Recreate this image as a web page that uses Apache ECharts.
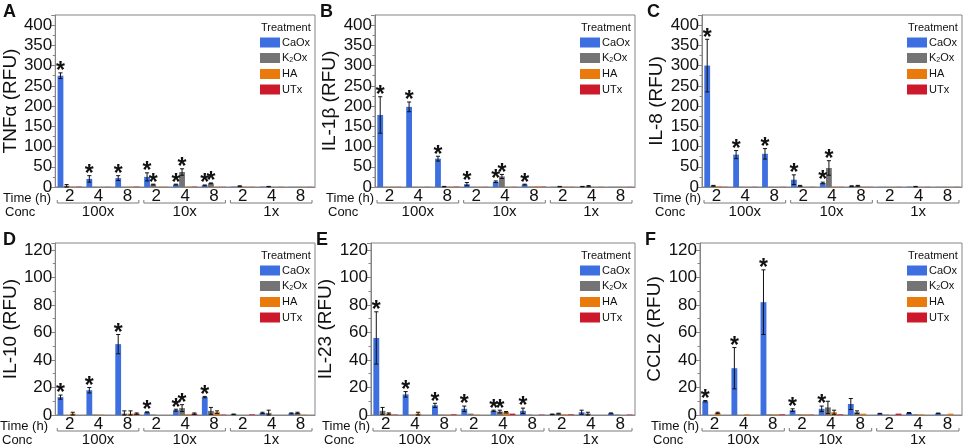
<!DOCTYPE html>
<html>
<head>
<meta charset="utf-8">
<script src="https://cdn.jsdelivr.net/npm/echarts@6/dist/echarts.min.js"></script>
<style>
html, body { margin: 0; padding: 0; background: #fff; }
#main { width: 966px; height: 446px; }
</style>
</head>
<body>
<div id="main"></div>
<script>
// categories: 3 concentrations x 3 time points
var groups = ['100x', '10x', '1x'];
var times = ['2', '4', '8'];
var treatments = ['CaOx', 'K2Ox', 'HA', 'UTx'];
var colors = ['#3d6fe0', '#747474', '#ea7a0c', '#cc1a2c'];

// rows: CaOx, K2Ox, HA, UTx ; columns: 100x-2,4,8, 10x-2,4,8, 1x-2,4,8
var tnfMean = [
    [275, 20, 22, 25, 6, 4, 1, 1, 0.5],
    [3, 0.5, 0.5, 6, 37, 9, 2, 1, 0.5],
    [1, 0.5, 1, 1, 1, 1, 1, 0.5, 0.5],
    [1, 0.5, 1, 0.5, 1, 0.5, 0.5, 0.5, 0.5]
];
var tnfErr = [
    [7, 8, 6, 10, 1, 1, 0, 0, 0],
    [3, 0, 0, 1, 8, 1, 1, 0.5, 0],
    [0, 0, 0, 0, 0, 0, 0, 0, 0],
    [0, 0, 0, 0, 0, 0, 0, 0, 0]
];
var tnfStar = [
    [1, 1, 1, 1, 1, 1, 0, 0, 0],
    [0, 0, 0, 1, 1, 1, 0, 0, 0],
    [0, 0, 0, 0, 0, 0, 0, 0, 0],
    [0, 0, 0, 0, 0, 0, 0, 0, 0]
];

var il1bMean = [
    [178, 198, 70, 7, 13, 6, 0.5, 1, 0.5],
    [0.5, 0.5, 1, 0.5, 26, 1, 1, 2, 0.5],
    [1, 0.5, 1, 0.5, 0.5, 2, 1, 0.5, 0.5],
    [0.5, 0.5, 1, 0.5, 0.5, 1, 0.5, 0.5, 0.5]
];
var il1bErr = [
    [45, 12, 6, 4, 2, 1, 0, 0.5, 0],
    [0, 0, 0.5, 0, 5, 0, 0.5, 1.5, 0],
    [0, 0, 0, 0, 0, 0, 0, 0, 0],
    [0, 0, 0, 0, 0, 0, 0, 0, 0]
];
var il1bStar = [
    [1, 1, 1, 1, 1, 1, 0, 0, 0],
    [0, 0, 0, 0, 1, 0, 0, 0, 0],
    [0, 0, 0, 0, 0, 0, 0, 0, 0],
    [0, 0, 0, 0, 0, 0, 0, 0, 0]
];

var il8Mean = [
    [300, 80, 82, 18, 10, 2, 0.5, 1, 0.5],
    [3, 0.5, 0.5, 3, 47, 3, 0.5, 1, 0.5],
    [2, 0.5, 0.5, 0.5, 1, 1, 0.5, 0.5, 0.5],
    [0.5, 0.5, 0.5, 0.5, 0.5, 0.5, 0.5, 0.5, 0.5]
];
var il8Err = [
    [65, 10, 13, 12, 2, 1, 0, 0, 0],
    [1, 0, 0, 1, 18, 1, 0, 0.5, 0],
    [0, 0, 0, 0, 0, 0, 0, 0, 0],
    [0, 0, 0, 0, 0, 0, 0, 0, 0]
];
var il8Star = [
    [1, 1, 1, 1, 1, 0, 0, 0, 0],
    [0, 0, 0, 0, 1, 0, 0, 0, 0],
    [0, 0, 0, 0, 0, 0, 0, 0, 0],
    [0, 0, 0, 0, 0, 0, 0, 0, 0]
];

var il10Mean = [
    [13, 18, 51.5, 2, 3.5, 13, 0.5, 1.5, 1.2],
    [0, 0.3, 1, 0.3, 5, 3, 0, 1.5, 1.5],
    [1, 0.3, 1, 0, 0.5, 2, 0, 0, 0.3],
    [0, 0, 1, 0, 1, 0.3, 0.5, 0, 0]
];
var il10Err = [
    [1.5, 2, 7, 0.3, 0.7, 0.5, 0.2, 0.5, 0.3],
    [0, 0, 2, 0, 2.5, 2.5, 0, 2, 0.5],
    [1, 0, 2, 0, 0, 1, 0, 0, 0],
    [0, 0, 0.5, 0, 0.5, 0, 0, 0, 0]
];
var il10Star = [
    [1, 1, 1, 1, 1, 1, 0, 0, 0],
    [0, 0, 0, 0, 1, 0, 0, 0, 0],
    [0, 0, 0, 0, 0, 0, 0, 0, 0],
    [0, 0, 0, 0, 0, 0, 0, 0, 0]
];

var il23Mean = [
    [56, 15, 7, 4.5, 3, 3, 0.5, 2, 1.2],
    [3, 0.3, 0.3, 1, 2.5, 0.3, 1, 1, 0.3],
    [1, 1, 0.3, 0.3, 2, 0, 0.5, 0, 0],
    [0.3, 0, 0.5, 0, 1, 0.3, 0.5, 0, 0.3]
];
var il23Err = [
    [19, 2, 1.5, 2, 0.5, 2, 0.2, 1.5, 0.3],
    [2.5, 0, 0, 0, 1, 0, 0.3, 1, 0],
    [0.5, 1, 0, 0, 0.5, 0, 0, 0, 0],
    [0, 0, 0, 0, 0, 0, 0, 0, 0]
];
var il23Star = [
    [1, 1, 1, 1, 1, 1, 0, 0, 0],
    [0, 0, 0, 0, 1, 0, 0, 0, 0],
    [0, 0, 0, 0, 0, 0, 0, 0, 0],
    [0, 0, 0, 0, 0, 0, 0, 0, 0]
];

var ccl2Mean = [
    [10, 34, 82, 3.5, 4.5, 8, 1, 1.5, 1.2],
    [0, 0, 0.5, 0.5, 5.5, 2, 0.3, 0.5, 0.3],
    [1.5, 0.5, 0.5, 0.5, 2, 1, 0, 0.5, 1],
    [0, 0, 0.5, 0.3, 0.5, 0, 1, 0, 0]
];
var ccl2Err = [
    [0.5, 15, 23.5, 1, 2, 4, 0.2, 0.3, 0.2],
    [0, 0, 0, 0, 4.5, 1, 0, 0, 0],
    [0.5, 0, 0, 0, 1.5, 0, 0, 0, 0],
    [0, 0, 0, 0, 0, 0, 0, 0, 0]
];
var ccl2Star = [
    [1, 1, 1, 1, 1, 0, 0, 0, 0],
    [0, 0, 0, 0, 0, 0, 0, 0, 0],
    [0, 0, 0, 0, 0, 0, 0, 0, 0],
    [0, 0, 0, 0, 0, 0, 0, 0, 0]
];

var FONT = '"Liberation Sans", Arial, Helvetica, sans-serif';
var CAT_GAP = 0.16, BAR_GAP = 0.06;

var categories = [];
groups.forEach(function (g) {
    times.forEach(function (t) { categories.push(g + '|' + t); });
});

// 面板布局
var panels = [
    { key: 'A', name: 'TNFα (RFU)', mean: tnfMean, err: tnfErr, star: tnfStar, max: 425, step: 50, left: 52, top: 15, width: 263, height: 172, gap: 32 },
    { key: 'B', name: 'IL-1β (RFU)', mean: il1bMean, err: il1bErr, star: il1bStar, max: 425, step: 50, left: 375, top: 15, width: 260, height: 172, gap: 34 },
    { key: 'C', name: 'IL-8 (RFU)', mean: il8Mean, err: il8Err, star: il8Star, max: 425, step: 50, left: 702, top: 15, width: 260, height: 172, gap: 36 },
    { key: 'D', name: 'IL-10 (RFU)', mean: il10Mean, err: il10Err, star: il10Star, max: 125, step: 20, left: 49, top: 243, width: 266, height: 172, gap: 30 },
    { key: 'E', name: 'IL-23 (RFU)', mean: il23Mean, err: il23Err, star: il23Star, max: 125, step: 20, left: 371, top: 243, width: 264, height: 172, gap: 31 },
    { key: 'F', name: 'CCL2 (RFU)', mean: ccl2Mean, err: ccl2Err, star: ccl2Star, max: 125, step: 20, left: 700, top: 243, width: 262, height: 172, gap: 36 }
];

function barCenter(api, ci, k) {
    var band = api.size([1, 0])[0];
    var bw = band * (1 - CAT_GAP) / (4 + 3 * BAR_GAP);
    var total = bw * 4 + bw * BAR_GAP * 3;
    return { x: api.coord([ci, 0])[0] - total / 2 + k * bw * (1 + BAR_GAP) + bw / 2, bw: bw };
}

function errRender(k) {
    return function (params, api) {
        var ci = api.value(0), m = api.value(1), e = api.value(2), s = api.value(3);
        var b = barCenter(api, ci, k);
        var yTop = api.coord([ci, m + e])[1];
        var yBot = api.coord([ci, Math.max(m - e, 0)])[1];
        var cap = Math.max(b.bw * 0.35, 1.5);
        var children = [];
        var ln = { stroke: '#111', lineWidth: 1 };
        if (e > 0) {
            children.push({ type: 'line', shape: { x1: b.x, y1: yTop, x2: b.x, y2: yBot }, style: ln });
            children.push({ type: 'line', shape: { x1: b.x - cap, y1: yTop, x2: b.x + cap, y2: yTop }, style: ln });
            children.push({ type: 'line', shape: { x1: b.x - cap, y1: yBot, x2: b.x + cap, y2: yBot }, style: ln });
        }
        if (s) {
            children.push({
                type: 'text',
                style: { text: '*', x: b.x, y: yTop - 1, align: 'center', verticalAlign: 'middle', font: 'bold 23px ' + FONT, fill: '#111' }
            });
        }
        return { type: 'group', children: children };
    };
}

function bracketRender(params, api) {
    var g = api.value(0);
    var band = api.size([1, 0])[0];
    var x0 = api.coord([g * 3, 0])[0] - band / 2 + 2;
    var x1 = api.coord([g * 3 + 2, 0])[0] + band / 2 - 3;
    var y = api.coord([0, 0])[1] + 16;
    return {
        type: 'group',
        children: [
            { type: 'polyline', shape: { points: [[x0, y - 3], [x0, y], [x1, y], [x1, y - 3]] }, style: { stroke: '#7a7a7a', lineWidth: 1, fill: null } },
            { type: 'text', style: { text: groups[g], x: (x0 + x1) / 2, y: y + 9, align: 'center', verticalAlign: 'middle', font: '15px ' + FONT, fill: '#111' } }
        ]
    };
}

var option = {
    animation: false,
    backgroundColor: '#fff',
    textStyle: { fontFamily: FONT },
    grid: [], xAxis: [], yAxis: [], series: [], legend: [], graphic: []
};

panels.forEach(function (p, pi) {
    option.grid.push({
        left: p.left, top: p.top, width: p.width, height: p.height,
        show: true, borderColor: '#858585', borderWidth: 1, backgroundColor: 'transparent'
    });
    option.xAxis.push({
        type: 'category', gridIndex: pi, data: categories,
        axisLine: { show: true, lineStyle: { color: '#858585' } },
        axisTick: { show: false },
        axisLabel: { color: '#111', fontSize: 17, margin: 1, interval: 0, formatter: function (v) { return v.split('|')[1]; } }
    });
    option.yAxis.push({
        type: 'value', gridIndex: pi, min: 0, max: p.max, interval: p.step,
        name: p.name, nameLocation: 'middle', nameGap: p.gap,
        nameTextStyle: { color: '#111', fontSize: 19 },
        axisLine: { show: true, lineStyle: { color: '#858585' } },
        axisTick: { show: true, length: 4, lineStyle: { color: '#858585' } },
        minorTick: { show: true, splitNumber: 2, length: 2.5, lineStyle: { color: '#858585' } },
        splitLine: { show: false },
        axisLabel: { color: '#111', fontSize: 17, margin: 3, showMaxLabel: false }
    });
    treatments.forEach(function (t, k) {
        option.series.push({
            name: t, type: 'bar', xAxisIndex: pi, yAxisIndex: pi,
            barCategoryGap: (CAT_GAP * 100) + '%', barGap: (BAR_GAP * 100) + '%',
            itemStyle: { color: colors[k] },
            data: p.mean[k]
        });
    });
    treatments.forEach(function (t, k) {
        option.series.push({
            type: 'custom', xAxisIndex: pi, yAxisIndex: pi, silent: true, z: 5,
            encode: { x: 0, y: 1 },
            renderItem: errRender(k),
            data: p.mean[k].map(function (m, ci) { return [ci, m, p.err[k][ci], p.star[k][ci]]; })
        });
    });
    option.series.push({
        type: 'custom', xAxisIndex: pi, yAxisIndex: pi, silent: true, clip: false,
        encode: { x: 0, y: 1 },
        renderItem: bracketRender,
        data: groups.map(function (g, i) { return [i, 0]; })
    });
    var lx = p.left + p.width - 55;
    option.legend.push({
        data: treatments, orient: 'vertical', left: lx, top: p.top + 22,
        icon: 'rect', itemWidth: 20, itemHeight: 10, itemGap: 4.5, padding: 0,
        selectedMode: false,
        textStyle: {
            fontSize: 11, color: '#111', padding: [0, 0, 0, -3],
            rich: { sub: { fontSize: 7, padding: [5, 0, 0, 0] } }
        },
        formatter: function (n) { return n === 'K2Ox' ? 'K{sub|2}Ox' : n; }
    });
    option.graphic.push(
        { type: 'text', left: p.key === 'A' || p.key === 'D' ? 3 : p.left - 55, top: p.top - 12, style: { text: p.key, font: 'bold 18px ' + FONT, fill: '#111' } },
        { type: 'text', x: lx + 1, y: p.top + 13, style: { text: 'Treatment', font: '11px ' + FONT, fill: '#111', verticalAlign: 'middle' } },
        { type: 'text', x: p.left - 1, y: p.top + p.height + 11, style: { text: 'Time (h)', font: '13px ' + FONT, fill: '#111', align: 'right', verticalAlign: 'middle' } },
        { type: 'text', x: p.left - 47, y: p.top + p.height + 25, style: { text: 'Conc', font: '13px ' + FONT, fill: '#111', align: 'left', verticalAlign: 'middle' } }
    );
});

var chart = echarts.init(document.getElementById('main'));
chart.setOption(option);
</script>
</body>
</html>
